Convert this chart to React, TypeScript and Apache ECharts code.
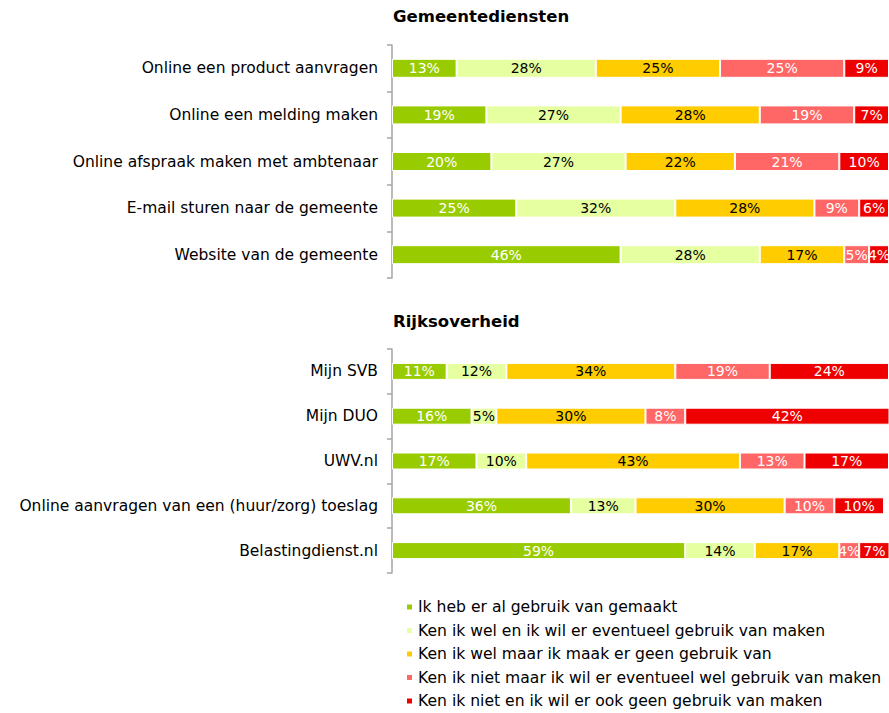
import React, { useEffect, useRef } from "react";
import * as echarts from "echarts";

const seriesNames = [
  "Ik heb er al gebruik van gemaakt",
  "Ken ik wel en ik wil er eventueel gebruik van maken",
  "Ken ik wel maar ik maak er geen gebruik van",
  "Ken ik niet maar ik wil er eventueel wel gebruik van maken",
  "Ken ik niet en ik wil er ook geen gebruik van maken",
];
const colors = ["#99CC00", "#E5FFA1", "#FFCC00", "#FF6666", "#EE0000"];
const labelColors = ["#ffffff", "#000000", "#000000", "#ffffff", "#ffffff"];

const gemeenteTitle = "Gemeentediensten";
const gemeenteCats = [
  "Online een product aanvragen",
  "Online een melding maken",
  "Online afspraak maken met ambtenaar",
  "E-mail sturen naar de gemeente",
  "Website van de gemeente",
];
const gemeenteValues = [
  [13, 19, 20, 25, 46],
  [28, 27, 27, 32, 28],
  [25, 28, 22, 28, 17],
  [25, 19, 21, 9, 5],
  [9, 7, 10, 6, 4],
];

const rijkTitle = "Rijksoverheid";
const rijkCats = [
  "Mijn SVB",
  "Mijn DUO",
  "UWV.nl",
  "Online aanvragen van een (huur/zorg) toeslag",
  "Belastingdienst.nl",
];
const rijkValues = [
  [11, 16, 17, 36, 59],
  [12, 5, 10, 13, 14],
  [34, 30, 43, 30, 17],
  [19, 8, 13, 10, 4],
  [24, 42, 17, 10, 7],
];

const FONT = "DejaVu Sans, Verdana, sans-serif";

export default function App() {
  const ref = useRef<HTMLDivElement>(null);
  useEffect(() => {
    if (!ref.current) return;
    const chart = echarts.init(ref.current, null, { renderer: "svg" });
    const yAxisBase = {
      type: "category" as const,
      inverse: true,
      axisLine: { show: true, lineStyle: { color: "#A6A6A6", width: 1.5 } },
      axisTick: { show: true, length: 5, lineStyle: { color: "#A6A6A6", width: 1.5 } },
      axisLabel: { color: "#000", fontSize: 15.5, fontFamily: FONT, margin: 14 },
    };
    const xAxisBase = { type: "value" as const, min: 0, max: 100, show: false };
    const mkSeries = (vals: number[][], idx: number, barWidth: number) =>
      vals.map((v, i) => ({
        name: seriesNames[i],
        type: "bar" as const,
        stack: "s" + idx,
        xAxisIndex: idx,
        yAxisIndex: idx,
        barWidth,
        data: v,
        itemStyle: { color: colors[i], borderColor: "#ffffff", borderWidth: 1 },
        label: {
          show: true,
          position: "inside" as const,
          formatter: "{c}%",
          color: labelColors[i],
          fontSize: 14,
          fontFamily: FONT,
        },
      }));
    const titleStyle = { fontSize: 16.5, fontWeight: "bold" as const, fontFamily: FONT, color: "#000" };
    chart.setOption({
      animation: false,
      backgroundColor: "#ffffff",
      title: [
        { text: gemeenteTitle, left: 393, top: 8, padding: 0, textStyle: titleStyle },
        { text: rijkTitle, left: 393, top: 313, padding: 0, textStyle: titleStyle },
      ],
      legend: {
        orient: "vertical",
        left: 405,
        top: 599,
        height: 130,
        padding: 0,
        itemWidth: 7,
        itemHeight: 7,
        itemGap: 7.5,
        icon: "rect",
        data: seriesNames,
        textStyle: { fontSize: 15.6, fontFamily: FONT, color: "#000" },
      },
      grid: [
        { left: 392, right: 0, top: 45, height: 233 },
        { left: 392, right: 0, top: 349, height: 224 },
      ],
      xAxis: [
        { ...xAxisBase, gridIndex: 0 },
        { ...xAxisBase, gridIndex: 1 },
      ],
      yAxis: [
        { ...yAxisBase, gridIndex: 0, data: gemeenteCats },
        { ...yAxisBase, gridIndex: 1, data: rijkCats },
      ],
      series: [...mkSeries(gemeenteValues, 0, 19), ...mkSeries(rijkValues, 1, 17)],
    });
    return () => chart.dispose();
  }, []);
  return <div ref={ref} style={{ width: 889, height: 713, position: "absolute", left: 0, top: 0 }} />;
}
